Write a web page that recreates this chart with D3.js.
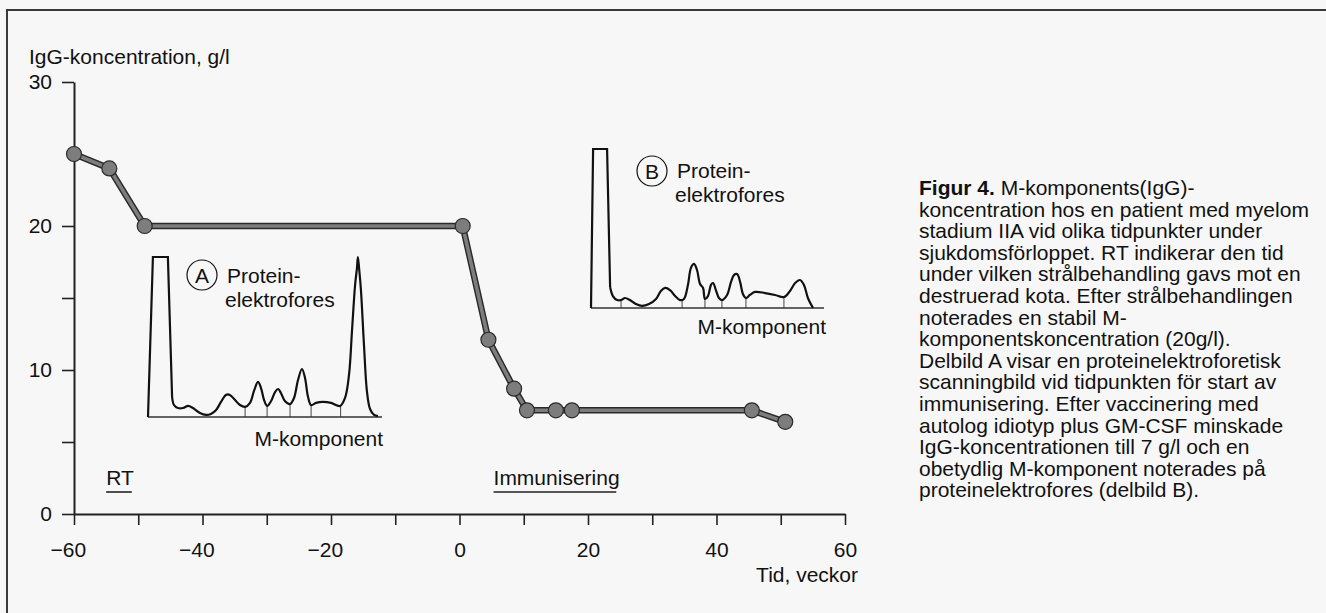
<!DOCTYPE html>
<html>
<head>
<meta charset="utf-8">
<script src="https://cdn.jsdelivr.net/npm/d3@7/dist/d3.min.js"></script>
<style>
body { margin:0; background:#f7f7f7; }
svg { display:block; font-family:"Liberation Sans", Arial, sans-serif; }
</style>
</head>
<body>
<div id="viz"></div>
<script>

// IgG-koncentration (g/l) per vecka
var weeks = [-60, -54.5, -49, 0.5, 4.5, 8.5, 10.5, 15, 17.5, 45.5, 50.7];
var igg   = [25, 24, 20, 20, 12.1, 8.7, 7.2, 7.2, 7.2, 7.2, 6.4];

var xTicks  = [-60, -50, -40, -30, -20, -10, 0, 10, 20, 30, 40, 50, 60];
var xLabels = [-60, -40, -20, 0, 20, 40, 60];
var yTicks  = [0, 5, 10, 15, 20, 30];
var yLabels = [0, 10, 20, 30];

// behandlingsperioder
var periodNames = ["RT", "Immunisering"];
var periodStart = [-55, 5.3];
var periodEnd   = [-51, 24.4];

// delbild A: proteinelektrofores (position 0-100, intensitet 0-100)
var albA  = [[0,0],[2.1,100],[8.5,100],[10.3,12.5]];
var scanA = [[10.3,12.5],[11.1,7.5],[12.8,5.6],[15,5.6],[17.1,6.9],[19.2,5.6],[22.2,2.5],[24.8,1.3],
  [26.9,1.9],[29.1,4.4],[31.2,9.4],[33.3,13.8],[35,13.8],[37.2,10.6],[39.3,7.5],[41.5,6.3],[43.6,8.8],
  [45.3,16.3],[47,21.9],[48.3,18.1],[49.6,10.6],[50.9,6.9],[52.6,10],[54.3,15.6],[55.6,17.5],[56.8,15],
  [58.5,10],[60.7,8.1],[62.4,11.9],[64.1,23.1],[65.8,30],[67.1,24.4],[68.4,12.5],[69.7,7.5],[71.8,8.8],
  [74.8,9.4],[78.2,8.8],[82.1,6.9],[84.2,11.9],[85.9,26.3],[87.2,54.4],[88.5,82.5],[89.3,93.1],[89.7,100],
  [90.2,93.1],[91,79.4],[92.3,45],[93.6,15.6],[94.9,5],[96.6,1.3],[98.3,0.6]];
var cutsA = [41.5, 50.9, 60.7, 69.7, 82.3];

// delbild B
var albB  = [[0,0],[0.9,100],[6.9,100],[8.2,13.2]];
var scanB = [[8.2,13.2],[9.4,7.5],[11.2,5],[12.9,5],[14.6,6.3],[16.7,5],[19.3,2.5],[21.9,1.3],[24.9,2.5],
  [27.9,5.7],[30,10.7],[31.8,12.6],[33.9,11.3],[36.1,7.5],[38.2,5],[39.9,5.7],[41.6,14.5],[42.9,25.2],
  [44.2,27.7],[45.5,23.9],[46.8,15.1],[48.1,12.6],[48.9,5.7],[50.2,7.5],[51.5,14.5],[52.4,15.7],[53.6,11.3],
  [54.9,6.3],[56.2,5],[58.4,8.2],[60.1,16.4],[61.4,20.8],[62.7,21.4],[64,16.4],[65.2,8.8],[66.5,6.3],
  [68.2,8.2],[70.4,10.1],[74.7,9.4],[79,8.2],[82.8,6.9],[85.4,10.7],[87.6,15.7],[89.7,17.6],[91.4,14.5],
  [93.1,6.3],[95.3,0]];
var cutsB = [12.9, 39.1, 48.9, 56.2, 66.5, 82.8];

var captionLines = [
  "M-komponents(IgG)-",
  "koncentration hos en patient med myelom",
  "stadium IIA vid olika tidpunkter under",
  "sjukdomsförloppet. RT indikerar den tid",
  "under vilken strålbehandling gavs mot en",
  "destruerad kota. Efter strålbehandlingen",
  "noterades en stabil M-",
  "komponentskoncentration (20g/l).",
  "Delbild A visar en proteinelektroforetisk",
  "scanningbild vid tidpunkten för start av",
  "immunisering. Efter vaccinering med",
  "autolog idiotyp plus GM-CSF minskade",
  "IgG-koncentrationen till 7 g/l och en",
  "obetydlig M-komponent noterades på",
  "proteinelektrofores (delbild B)."
];

var width = 1326, height = 613;
var fs = 21;

var svg = d3.select("#viz")
	.append("svg")
	.attr("width", width)
	.attr("height", height);

svg.append("rect")
	.attr("x", 7).attr("y", 10)
	.attr("width", width).attr("height", height)
	.attr("fill", "none")
	.attr("stroke", "#3a3a3a")
	.attr("stroke-width", 2);

var x = d3.scaleLinear().domain([-60, 60]).range([74, 845]);
var y = d3.scaleLinear().domain([0, 30]).range([514, 82]);

// axlar
var xAxis = svg.append("g")
	.attr("transform", "translate(0," + y(0) + ")")
	.call(d3.axisBottom(x)
		.tickValues(xTicks)
		.tickSize(11)
		.tickSizeOuter(0)
		.tickPadding(17)
		.tickFormat(d => xLabels.indexOf(d) >= 0 ? d3.format("")(d).replace("-", "\u2212") : ""));

var yAxis = svg.append("g")
	.attr("transform", "translate(" + x(-60) + ",0)")
	.call(d3.axisLeft(y)
		.tickValues(yTicks)
		.tickSize(12)
		.tickSizeOuter(0)
		.tickPadding(10)
		.tickFormat(d => yLabels.indexOf(d) >= 0 ? d : ""));

svg.selectAll(".domain").attr("stroke", "#222").attr("stroke-width", 2);
svg.selectAll(".tick line").attr("stroke", "#222").attr("stroke-width", 1.6);
svg.selectAll(".tick text")
	.attr("font-size", fs)
	.attr("font-family", "Liberation Sans, Arial, sans-serif")
	.attr("fill", "#111");
xAxis.selectAll(".tick text").attr("dx", d => d < 0 ? "-0.29em" : 0);

svg.append("text")
	.attr("x", 29).attr("y", 64)
	.attr("font-size", fs).attr("fill", "#111")
	.text("IgG-koncentration, g/l");

svg.append("text")
	.attr("x", 858).attr("y", 582)
	.attr("text-anchor", "end")
	.attr("font-size", fs).attr("fill", "#111")
	.text("Tid, veckor");

// perioder
periodNames.forEach((name, i) => {
	svg.append("text")
		.attr("x", x(periodStart[i])).attr("y", 485)
		.attr("font-size", fs).attr("fill", "#111")
		.text(name);
	svg.append("line")
		.attr("x1", x(periodStart[i])).attr("x2", x(periodEnd[i]))
		.attr("y1", 492).attr("y2", 492)
		.attr("stroke", "#222").attr("stroke-width", 1.6);
});

// elektroforesdelbilder
function heightAt(scan, pos) {
	var i = d3.bisector(d => d[0]).left(scan, pos);
	if (i <= 0) return scan[0][1];
	if (i >= scan.length) return scan[scan.length - 1][1];
	var a = scan[i - 1], b = scan[i];
	return a[1] + (b[1] - a[1]) * (pos - a[0]) / (b[0] - a[0]);
}

function drawInset(alb, scan, cuts, xr, yr, letter, circ, lbl, mlbl) {
	var sx = d3.scaleLinear().domain([0, 100]).range(xr);
	var sy = d3.scaleLinear().domain([0, 100]).range(yr);
	var g = svg.append("g");

	g.selectAll("line.cut")
		.data(cuts)
		.enter()
		.append("line")
		.attr("class", "cut")
		.attr("x1", d => sx(d)).attr("x2", d => sx(d))
		.attr("y1", sy(0)).attr("y2", d => sy(heightAt(scan, d)))
		.attr("stroke", "#555").attr("stroke-width", 1.1);

	g.append("line")
		.attr("x1", sx(0)).attr("x2", sx(100))
		.attr("y1", sy(0)).attr("y2", sy(0))
		.attr("stroke", "#333").attr("stroke-width", 1.6);

	g.append("path")
		.attr("d", d3.line().x(d => sx(d[0])).y(d => sy(d[1]))(alb))
		.attr("fill", "none").attr("stroke", "#111")
		.attr("stroke-width", 2.2).attr("stroke-linejoin", "miter");

	g.append("path")
		.attr("d", d3.line().x(d => sx(d[0])).y(d => sy(d[1])).curve(d3.curveCatmullRom.alpha(0.5))(scan))
		.attr("fill", "none").attr("stroke", "#111")
		.attr("stroke-width", 2.2);

	g.append("circle")
		.attr("cx", circ[0]).attr("cy", circ[1]).attr("r", 15)
		.attr("fill", "none").attr("stroke", "#111").attr("stroke-width", 1.2);
	g.append("text")
		.attr("x", circ[0]).attr("y", circ[1] + 8)
		.attr("text-anchor", "middle")
		.attr("font-size", fs).attr("fill", "#111")
		.text(letter);
	g.append("text")
		.attr("x", lbl[0] + 2).attr("y", lbl[1])
		.attr("font-size", fs).attr("fill", "#111")
		.text("Protein-");
	g.append("text")
		.attr("x", lbl[0]).attr("y", lbl[1] + 24)
		.attr("font-size", fs).attr("fill", "#111")
		.text("elektrofores");
	g.append("text")
		.attr("x", mlbl[0]).attr("y", mlbl[1])
		.attr("text-anchor", "end")
		.attr("font-size", fs).attr("fill", "#111")
		.text("M-komponent");
}

drawInset(albA, scanA, cutsA, [148, 382], [417, 257], "A", [202, 275], [225, 283], [383, 446]);
drawInset(albB, scanB, cutsB, [591, 824], [308, 149], "B", [652, 171], [675, 178], [826, 334]);

// IgG-kurva
var pts = weeks.map((w, i) => [w, igg[i]]);
var line = d3.line().x(d => x(d[0])).y(d => y(d[1]));

svg.append("path")
	.attr("d", line(pts))
	.attr("fill", "none").attr("stroke", "#2a2a2a").attr("stroke-width", 6.5);
svg.append("path")
	.attr("d", line(pts))
	.attr("fill", "none").attr("stroke", "#7d7d7d").attr("stroke-width", 3.6);

svg.selectAll("circle.pt")
	.data(pts)
	.enter()
	.append("circle")
	.attr("class", "pt")
	.attr("cx", d => x(d[0])).attr("cy", d => y(d[1]))
	.attr("r", 7.5)
	.attr("fill", "#7d7d7d").attr("stroke", "#2a2a2a").attr("stroke-width", 1.2);

// figurtext
var lh = 21.6;
var cap = svg.append("text")
	.attr("x", 919).attr("y", 195)
	.attr("font-size", fs).attr("fill", "#111");
captionLines.forEach((s, i) => {
	if (i == 0) {
		cap.append("tspan").attr("x", 919).attr("y", 195)
			.attr("font-weight", "bold").text("Figur 4. ");
		cap.append("tspan").text(s);
	} else {
		cap.append("tspan").attr("x", 919).attr("y", 195 + i * lh).text(s);
	}
});

</script>
</body>
</html>
